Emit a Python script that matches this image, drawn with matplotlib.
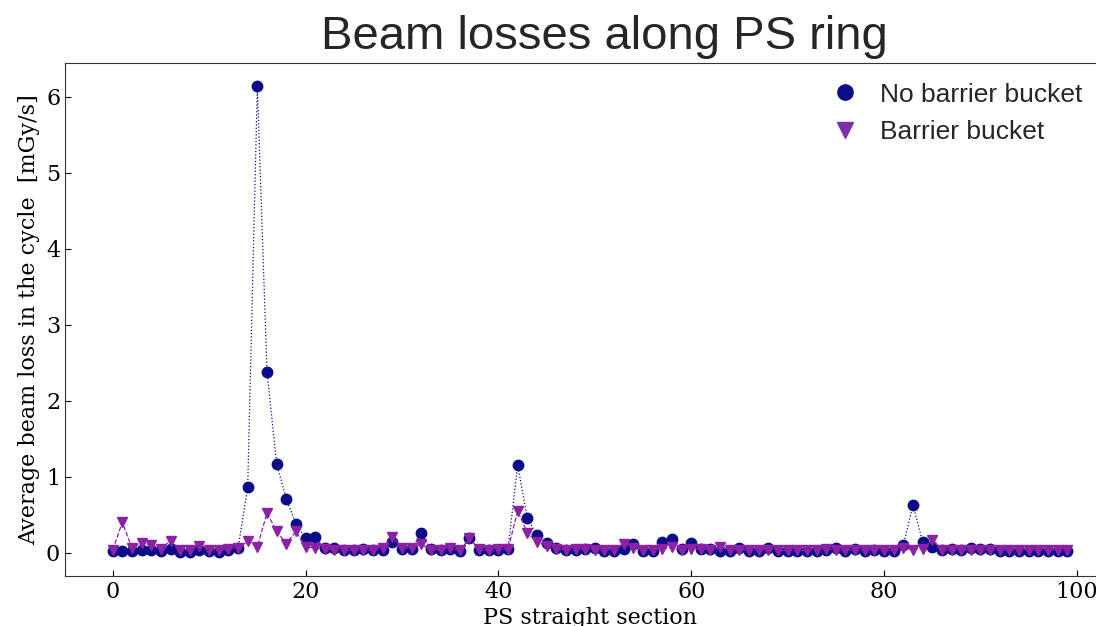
import numpy as np
import matplotlib
matplotlib.use("Agg")
import matplotlib.pyplot as plt
from matplotlib.lines import Line2D

# Straight sections of the PS ring
sections = np.arange(100)

# Average beam loss per straight section [mGy/s]
loss_no_bb = [
    0.02, 0.02, 0.02, 0.03, 0.03, 0.02, 0.045, 0.01, 0.01, 0.03,
    0.02, 0.01, 0.04, 0.06, 0.86, 6.14, 2.38, 1.17, 0.71, 0.38,
    0.19, 0.20, 0.065, 0.06, 0.03, 0.04, 0.05, 0.03, 0.03, 0.14,
    0.045, 0.045, 0.26, 0.045, 0.03, 0.045, 0.02, 0.19, 0.03, 0.03,
    0.03, 0.05, 1.15, 0.46, 0.23, 0.13, 0.06, 0.03, 0.03, 0.05,
    0.06, 0.02, 0.025, 0.05, 0.12, 0.02, 0.02, 0.14, 0.18, 0.045,
    0.13, 0.05, 0.05, 0.025, 0.025, 0.06, 0.02, 0.025, 0.06, 0.02,
    0.02, 0.02, 0.02, 0.02, 0.03, 0.06, 0.02, 0.045, 0.02, 0.03,
    0.02, 0.02, 0.095, 0.63, 0.14, 0.075, 0.04, 0.05, 0.04, 0.06,
    0.045, 0.045, 0.02, 0.02, 0.02, 0.02, 0.02, 0.02, 0.02, 0.02,
]
loss_bb = [
    0.035, 0.40, 0.06, 0.13, 0.10, 0.05, 0.16, 0.035, 0.035, 0.09,
    0.04, 0.03, 0.05, 0.06, 0.15, 0.08, 0.52, 0.28, 0.12, 0.28,
    0.075, 0.06, 0.05, 0.035, 0.03, 0.03, 0.04, 0.03, 0.06, 0.21,
    0.065, 0.06, 0.11, 0.04, 0.04, 0.06, 0.03, 0.19, 0.045, 0.03,
    0.045, 0.045, 0.55, 0.26, 0.14, 0.09, 0.045, 0.04, 0.045, 0.045,
    0.04, 0.04, 0.04, 0.12, 0.06, 0.04, 0.04, 0.05, 0.07, 0.04,
    0.05, 0.045, 0.04, 0.07, 0.04, 0.04, 0.04, 0.04, 0.04, 0.03,
    0.03, 0.03, 0.03, 0.04, 0.05, 0.04, 0.03, 0.04, 0.03, 0.04,
    0.03, 0.03, 0.06, 0.04, 0.05, 0.17, 0.03, 0.04, 0.03, 0.04,
    0.03, 0.04, 0.04, 0.04, 0.04, 0.04, 0.04, 0.04, 0.04, 0.04,
]

label_no_bb = "No barrier bucket"
label_bb = "Barrier bucket"

c_no_bb = "#0c0c88"
c_bb = "#8a22a6"

fig = plt.figure(figsize=(10.96, 6.26), dpi=100)
ax = fig.add_axes([0.0593, 0.0799, 0.958, 0.8195])

ax.plot(sections, loss_no_bb, linestyle=":", linewidth=0.9, color=c_no_bb,
        marker="o", markersize=7.5)
ax.plot(sections, loss_bb, linestyle="--", linewidth=0.9, color=c_bb,
        marker="v", markersize=7.5)

ax.set_xlim(-4.95, 103.95)
ax.set_ylim(-0.307, 6.447)
ax.set_xticks([0, 20, 40, 60, 80, 100])
ax.set_yticks([0, 1, 2, 3, 4, 5, 6])

serif = "DejaVu Serif"
ax.tick_params(direction="in", length=4, labelsize=16, top=False, right=False)
for lab in ax.get_xticklabels() + ax.get_yticklabels():
    lab.set_fontfamily(serif)

ax.set_xlabel("PS straight section", fontsize=16, family=serif, labelpad=3)
ax.set_ylabel("Average beam loss in the cycle  [mGy/s]", fontsize=16,
              family=serif, labelpad=4)

for s in ax.spines.values():
    s.set_color("#333333")

fig.text(0.551, 0.941, "Beam losses along PS ring", fontsize=34,
         family="Liberation Sans", color="#262626", ha="center", va="center")

handles = [
    Line2D([], [], linestyle="none", marker="o", markersize=11, color=c_no_bb),
    Line2D([], [], linestyle="none", marker="v", markersize=11, color="#7a30aa"),
]
leg = ax.legend(handles, [label_no_bb, label_bb], loc="upper left",
                bbox_to_anchor=(0.7375, 0.906), bbox_transform=fig.transFigure,
                frameon=False, prop={"family": "Liberation Sans", "size": 19},
                handletextpad=0.8, labelspacing=0.52, handlelength=1.0)
for t in leg.get_texts():
    t.set_color("#262626")

fig.savefig("out.png", dpi=100)
